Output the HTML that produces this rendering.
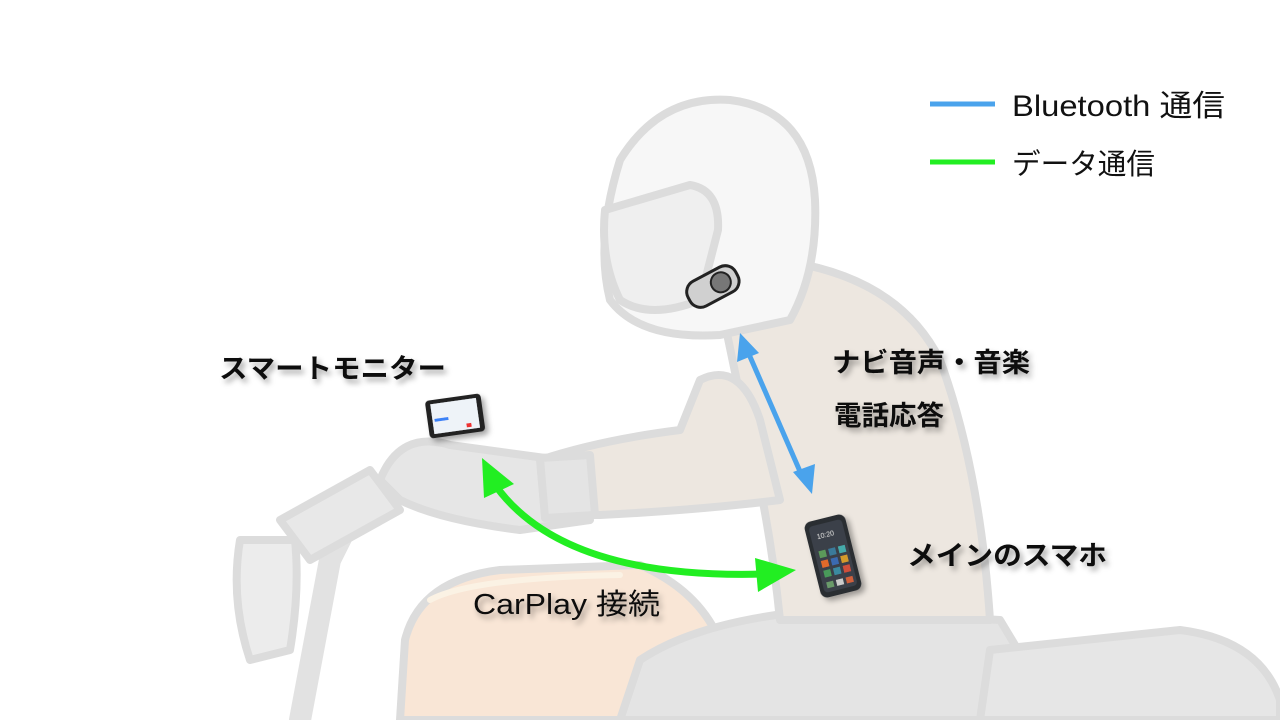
<!DOCTYPE html>
<html><head><meta charset="utf-8">
<style>
html,body{margin:0;padding:0;background:#fff;}
svg{display:block;}
.t{font-family:"Liberation Sans","Noto Sans CJK JP",sans-serif;}
</style></head>
<body>
<svg width="1280" height="720" viewBox="0 0 1280 720" xmlns="http://www.w3.org/2000/svg">
<defs>
<filter id="sh" x="-20%" y="-50%" width="140%" height="200%">
<feDropShadow dx="3" dy="4" stdDeviation="3" flood-color="#000" flood-opacity="0.35"/>
</filter>
</defs>
<g stroke="#dcdcdc" stroke-width="8" stroke-linejoin="round" stroke-linecap="round">
<path d="M300 720 L330 560 L360 500" fill="none" stroke-width="22" stroke="#e2e2e2"/>
<path d="M240 540 Q230 600 250 660 L290 650 Q300 590 295 540 Z" fill="#ececec"/>
<path d="M280 520 L370 470 L400 510 L310 560 Z" fill="#e8e8e8"/>
<path d="M380 480 Q400 430 450 445 L560 460 L590 520 L520 530 Q440 520 400 500 Z" fill="#e6e6e6"/>
<path d="M405 640 Q420 580 500 570 L640 565 Q720 600 730 680 L720 720 L400 720 Z" fill="#f9e6d6"/>
<path d="M430 600 Q470 578 620 575" fill="none" stroke="#fbf2e4" stroke-width="6"/>
<path d="M620 720 L640 660 Q700 620 820 610 L1000 620 L1060 720 Z" fill="#e4e4e4"/>
<path d="M990 650 L1180 630 Q1260 640 1280 700 L1280 720 L980 720 Z" fill="#e6e6e6"/>
<path d="M720 300 L790 262 Q900 280 940 360 Q980 470 990 620 L780 620 Q770 520 745 420 Z" fill="#ede7e0"/>
<path d="M700 380 Q740 360 760 420 L780 500 Q700 510 600 515 L545 515 L540 460 Q600 440 680 430 Z" fill="#ede7e0"/>
<path d="M540 458 L590 455 L595 515 L545 518 Z" fill="#e4e4e4"/>
<path d="M620 160 Q660 95 730 100 Q810 110 815 200 Q818 270 790 320 L720 335 Q640 340 610 300 Q595 240 620 160 Z" fill="#f7f7f7"/>
<path d="M605 210 L690 185 Q720 190 718 230 L700 300 Q650 320 620 300 Q600 260 605 210 Z" fill="#efefef"/>
</g>
<g transform="rotate(-28 712 287)">
<rect x="686" y="273" width="54" height="28" rx="12" fill="#d0d0d0" stroke="#222" stroke-width="3"/>
<circle cx="722" cy="287" r="10" fill="#777" stroke="#222" stroke-width="2"/>
</g>
<g transform="rotate(-8 455 415)" filter="url(#sh)">
<rect x="427" y="397" width="56" height="38" rx="4" fill="#222"/>
<rect x="432" y="401" width="46" height="30" fill="#eef3f8"/>
<rect x="434" y="416" width="14" height="3" fill="#3b82f6"/>
<rect x="465" y="425" width="5" height="4" fill="#e33"/>
</g>
<g transform="rotate(-14 833 556)" filter="url(#sh)">
<rect x="812" y="517" width="42" height="78" rx="7" fill="#2a2e33"/>
<rect x="816" y="522" width="34" height="68" rx="4" fill="#3a4048"/>
<text x="822" y="536" font-size="7" fill="#ddd" class="t">10:20</text>
<rect x="820" y="548" width="7" height="7" fill="#5c9a5a"/><rect x="830" y="548" width="7" height="7" fill="#3a7a9a"/><rect x="840" y="548" width="7" height="7" fill="#4aa"/>
<rect x="820" y="558" width="7" height="7" fill="#e26a2c"/><rect x="830" y="558" width="7" height="7" fill="#3a6ab0"/><rect x="840" y="558" width="7" height="7" fill="#d49a2a"/>
<rect x="820" y="568" width="7" height="7" fill="#4a9a5a"/><rect x="830" y="568" width="7" height="7" fill="#3a8aa0"/><rect x="840" y="568" width="7" height="7" fill="#d0503a"/>
<rect x="820" y="580" width="7" height="6" fill="#6a9a6a"/><rect x="830" y="580" width="7" height="6" fill="#ccc"/><rect x="840" y="580" width="7" height="6" fill="#d0603a"/>
</g>
<line x1="748" y1="352" x2="802" y2="476" stroke="#4aa3ec" stroke-width="5"/>
<polygon points="740,333 737,362 759,353" fill="#4aa3ec"/>
<polygon points="812,494 793,472 815,464" fill="#4aa3ec"/>
<path d="M493 482 Q560 580 765 574" fill="none" stroke="#22ee22" stroke-width="7"/>
<polygon points="482,458 484,498 514,484" fill="#22ee22"/>
<polygon points="796,570 755,558 758,592" fill="#22ee22"/>
<line x1="930" y1="104" x2="995" y2="104" stroke="#4aa3ec" stroke-width="5"/>
<line x1="930" y1="162" x2="995" y2="162" stroke="#22ee22" stroke-width="5"/>
<text x="1012" y="116" font-size="30" class="t" fill="#111" textLength="213" lengthAdjust="spacingAndGlyphs">Bluetooth 通信</text>
<text x="1012" y="174" font-size="29" class="t" fill="#111" textLength="143" lengthAdjust="spacingAndGlyphs">データ通信</text>
<g filter="url(#sh)" class="t" font-size="27" fill="#111">
<text x="219" y="378" font-weight="bold" textLength="227" lengthAdjust="spacingAndGlyphs">スマートモニター</text>
<text x="832" y="372" font-weight="bold" textLength="198" lengthAdjust="spacingAndGlyphs">ナビ音声・音楽</text>
<text x="834" y="425" font-weight="bold" textLength="110" lengthAdjust="spacingAndGlyphs">電話応答</text>
<text x="907" y="565" font-weight="bold" textLength="200" lengthAdjust="spacingAndGlyphs">メインのスマホ</text>
<text x="473" y="614" font-size="29" textLength="187" lengthAdjust="spacingAndGlyphs">CarPlay 接続</text>
</g>
</svg>
</body></html>
